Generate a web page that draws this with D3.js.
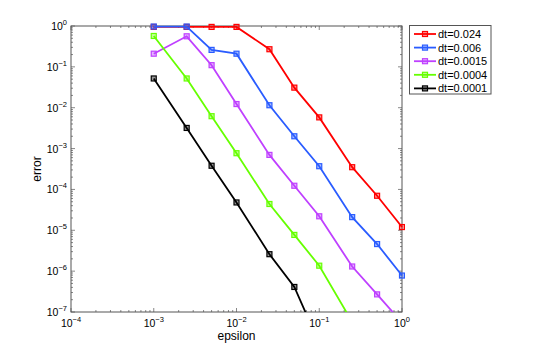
<!DOCTYPE html>
<html lang="en">
<head>
<meta charset="utf-8">
<title>error vs epsilon</title>
<script src="https://cdn.jsdelivr.net/npm/d3@7"></script>
<style>
  body { margin: 0; background: #fff; }
  text { font-family: "Liberation Sans", Arial, sans-serif; }
</style>
</head>
<body>
<script>
// epsilon values (x)
var epsilon = [0.001, 0.0025, 0.005, 0.01, 0.025, 0.05, 0.1, 0.25, 0.5, 1];

// error per dt series
var err024 = [0.95, 0.95, 0.95, 0.95, 0.27, 0.031, 0.0058, 3.5e-4, 7e-5, 1.2e-5];
var err006 = [0.97, 0.97, 0.26, 0.21, 0.0115, 0.002, 3.7e-4, 2.1e-5, 4.6e-6, 7.8e-7];
var err0015 = [0.21, 0.56, 0.11, 0.0123, 7e-4, 1.23e-4, 2.2e-5, 1.3e-6, 2.7e-7, 5.5e-8];
var err0004 = [0.57, 0.052, 0.0062, 7.7e-4, 4.4e-5, 7.7e-6, 1.36e-6, 5.7e-8];
var err0001 = [0.052, 0.0032, 3.8e-4, 4.8e-5, 2.6e-6, 4.1e-7, 1.7e-8];

var labels = ["dt=0.024", "dt=0.006", "dt=0.0015", "dt=0.0004", "dt=0.0001"];
var colors = ["#ff0000", "#2a5cff", "#bf40ff", "#66ff00", "#000000"];
var seriesVals = [err024, err006, err0015, err0004, err0001];

var xTicks = [-4, -3, -2, -1, 0];
var yTicks = [0, -1, -2, -3, -4, -5, -6, -7];

var w = 545, h = 351;
var pL = 71, pR = 402, pT = 26, pB = 312;

var svg = d3.select("body").append("svg")
    .attr("width", w).attr("height", h);

var x = d3.scaleLog().domain([1e-4, 1]).range([pL, pR]);
var y = d3.scaleLog().domain([1e-7, 1]).range([pB, pT]);

svg.append("clipPath").attr("id", "clip")
  .append("rect")
    .attr("x", pL).attr("y", pT - 3)
    .attr("width", pR - pL + 3).attr("height", pB - pT + 3);

// minor/major ticks on all four sides
var axisCol = "#555";
var tickG = svg.append("g").attr("stroke", axisCol).attr("stroke-width", 0.7);

function minors(lo, hi) {
  var out = [];
  for (var e = lo; e < hi; e++) {
    for (var k = 2; k <= 9; k++) out.push(k * Math.pow(10, e));
  }
  return out;
}

xTicks.forEach(function(e) {
  var px = x(Math.pow(10, e));
  tickG.append("line").attr("x1", px).attr("x2", px).attr("y1", pB).attr("y2", pB - 4);
  tickG.append("line").attr("x1", px).attr("x2", px).attr("y1", pT).attr("y2", pT + 4);
});
minors(-4, 0).forEach(function(v) {
  var px = x(v);
  tickG.append("line").attr("x1", px).attr("x2", px).attr("y1", pB).attr("y2", pB - 2);
  tickG.append("line").attr("x1", px).attr("x2", px).attr("y1", pT).attr("y2", pT + 2);
});
yTicks.forEach(function(e) {
  var py = y(Math.pow(10, e));
  tickG.append("line").attr("x1", pL).attr("x2", pL + 4).attr("y1", py).attr("y2", py);
  tickG.append("line").attr("x1", pR).attr("x2", pR - 4).attr("y1", py).attr("y2", py);
});
minors(-7, 0).forEach(function(v) {
  var py = y(v);
  tickG.append("line").attr("x1", pL).attr("x2", pL + 2).attr("y1", py).attr("y2", py);
  tickG.append("line").attr("x1", pR).attr("x2", pR - 2).attr("y1", py).attr("y2", py);
});

// tick labels
xTicks.forEach(function(e) {
  var px = x(Math.pow(10, e));
  var t = svg.append("text").attr("x", px).attr("y", 327)
    .attr("text-anchor", "middle").attr("font-size", 10.5).attr("fill", "#000");
  t.append("tspan").text("10");
  t.append("tspan").attr("dy", -5).attr("font-size", 7.5).text(e === 0 ? "0" : "\u2212" + (-e));
});
yTicks.forEach(function(e) {
  var py = y(Math.pow(10, e));
  var t = svg.append("text").attr("x", 67).attr("y", py + 4)
    .attr("text-anchor", "end").attr("font-size", 10.5).attr("fill", "#000");
  t.append("tspan").text("10");
  t.append("tspan").attr("dy", -5).attr("font-size", 7.5).text(e === 0 ? "0" : "\u2212" + (-e));
});

// axis labels
svg.append("text").attr("x", (pL + pR) / 2).attr("y", 340)
  .attr("text-anchor", "middle").attr("font-size", 12).text("epsilon");
svg.append("text").attr("transform", "translate(41," + ((pT + pB) / 2) + ") rotate(-90)")
  .attr("text-anchor", "middle").attr("font-size", 12).text("error");

// series
var line = d3.line()
  .x(function(d) { return x(d[0]); })
  .y(function(d) { return y(d[1]); });

var plot = svg.append("g").attr("clip-path", "url(#clip)");
seriesVals.forEach(function(vals, i) {
  var pts = vals.map(function(v, j) { return [epsilon[j], v]; });
  plot.append("path").datum(pts)
    .attr("d", line).attr("fill", "none")
    .attr("stroke", colors[i]).attr("stroke-width", 1.8);
  plot.selectAll(null).data(pts).enter().append("rect")
    .attr("x", function(d) { return x(d[0]) - 2.5; })
    .attr("y", function(d) { return y(d[1]) - 2.5; })
    .attr("width", 5).attr("height", 5)
    .attr("fill", colors[i]).attr("fill-opacity", 0.4)
    .attr("stroke", colors[i]).attr("stroke-width", 1.2);
});

// frame
svg.insert("rect", "g").attr("x", pL).attr("y", pT)
  .attr("width", pR - pL).attr("height", pB - pT)
  .attr("fill", "none").attr("stroke", axisCol).attr("stroke-width", 1);

// legend
var lg = svg.append("g");
lg.append("rect").attr("x", 409.5).attr("y", 25.5).attr("width", 81.5).attr("height", 68.5)
  .attr("fill", "#fff").attr("stroke", "#555").attr("stroke-width", 1);
labels.forEach(function(lab, i) {
  var ly = 34 + i * 13.6;
  lg.append("line").attr("x1", 414).attr("x2", 436).attr("y1", ly).attr("y2", ly)
    .attr("stroke", colors[i]).attr("stroke-width", 1.8);
  lg.append("rect").attr("x", 422.5).attr("y", ly - 2.5).attr("width", 5).attr("height", 5)
    .attr("fill", colors[i]).attr("fill-opacity", 0.4)
    .attr("stroke", colors[i]).attr("stroke-width", 1.2);
  lg.append("text").attr("x", 438).attr("y", ly + 4).attr("font-size", 11).text(lab);
});
</script>
</body>
</html>
